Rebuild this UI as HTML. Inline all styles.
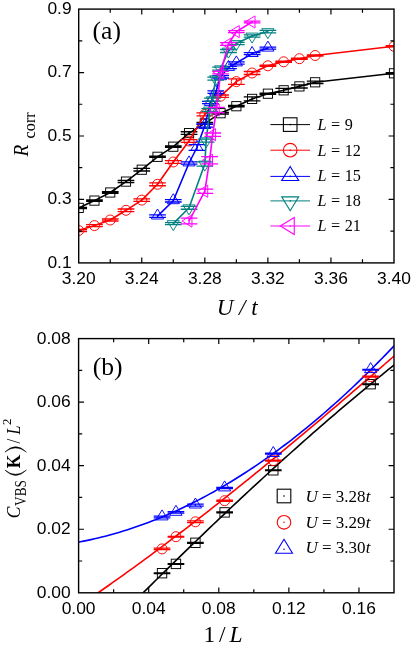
<!DOCTYPE html><html><head><meta charset="utf-8"><title>fig</title><style>html,body{margin:0;padding:0;background:#fff}svg{display:block;will-change:transform}text{fill:#000}</style></head><body>
<svg width="411" height="649" viewBox="0 0 411 649">
<rect width="411" height="649" fill="#fff"/>
<defs><clipPath id="ca"><rect x="78.7" y="9.1" width="315.3" height="253.79999999999998"/></clipPath><clipPath id="cb"><rect x="78.6" y="338.6" width="315.4" height="254.19999999999993"/></clipPath></defs>
<g clip-path="url(#ca)">
<polyline points="78.70,207.90 94.46,200.60 110.23,192.50 125.99,181.60 141.76,169.70 157.52,156.80 173.29,146.70 189.05,133.10 204.82,123.40 220.58,113.20 236.35,106.20 252.11,98.90 267.88,93.70 283.64,90.30 299.41,86.40 315.17,82.30 394.00,73.30" fill="none" stroke="#000000" stroke-width="1.6" stroke-linejoin="round"/>
<path d="M70.35 207.30h16.7M70.35 208.50h16.7M78.70 207.30v1.20" stroke="#000000" stroke-width="1.3" fill="none"/>
<rect x="74.10" y="203.30" width="9.20" height="9.20" fill="none" stroke="#000000" stroke-width="0.95"/>
<path d="M86.11 199.95h16.7M86.11 201.25h16.7M94.46 199.95v1.30" stroke="#000000" stroke-width="1.3" fill="none"/>
<rect x="89.86" y="196.00" width="9.20" height="9.20" fill="none" stroke="#000000" stroke-width="0.95"/>
<path d="M101.88 191.75h16.7M101.88 193.25h16.7M110.23 191.75v1.50" stroke="#000000" stroke-width="1.3" fill="none"/>
<rect x="105.63" y="187.90" width="9.20" height="9.20" fill="none" stroke="#000000" stroke-width="0.95"/>
<path d="M117.64 180.50h16.7M117.64 182.70h16.7M125.99 180.50v2.20" stroke="#000000" stroke-width="1.3" fill="none"/>
<rect x="121.39" y="177.00" width="9.20" height="9.20" fill="none" stroke="#000000" stroke-width="0.95"/>
<path d="M133.41 168.40h16.7M133.41 171.00h16.7M141.76 168.40v2.60" stroke="#000000" stroke-width="1.3" fill="none"/>
<rect x="137.16" y="165.10" width="9.20" height="9.20" fill="none" stroke="#000000" stroke-width="0.95"/>
<path d="M149.17 156.20h16.7M149.17 157.40h16.7M157.52 156.20v1.20" stroke="#000000" stroke-width="1.3" fill="none"/>
<rect x="152.92" y="152.20" width="9.20" height="9.20" fill="none" stroke="#000000" stroke-width="0.95"/>
<path d="M164.94 146.00h16.7M164.94 147.40h16.7M173.29 146.00v1.40" stroke="#000000" stroke-width="1.3" fill="none"/>
<rect x="168.69" y="142.10" width="9.20" height="9.20" fill="none" stroke="#000000" stroke-width="0.95"/>
<path d="M180.70 131.75h16.7M180.70 134.45h16.7M189.05 131.75v2.70" stroke="#000000" stroke-width="1.3" fill="none"/>
<rect x="184.45" y="128.50" width="9.20" height="9.20" fill="none" stroke="#000000" stroke-width="0.95"/>
<path d="M196.47 122.40h16.7M196.47 124.40h16.7M204.82 122.40v2.00" stroke="#000000" stroke-width="1.3" fill="none"/>
<rect x="200.22" y="118.80" width="9.20" height="9.20" fill="none" stroke="#000000" stroke-width="0.95"/>
<path d="M212.23 112.40h16.7M212.23 114.00h16.7M220.58 112.40v1.60" stroke="#000000" stroke-width="1.3" fill="none"/>
<rect x="215.98" y="108.60" width="9.20" height="9.20" fill="none" stroke="#000000" stroke-width="0.95"/>
<path d="M228.00 105.50h16.7M228.00 106.90h16.7M236.35 105.50v1.40" stroke="#000000" stroke-width="1.3" fill="none"/>
<rect x="231.75" y="101.60" width="9.20" height="9.20" fill="none" stroke="#000000" stroke-width="0.95"/>
<path d="M243.76 96.90h16.7M243.76 100.90h16.7M252.11 96.90v4.00" stroke="#000000" stroke-width="1.3" fill="none"/>
<rect x="247.51" y="94.30" width="9.20" height="9.20" fill="none" stroke="#000000" stroke-width="0.95"/>
<path d="M259.53 93.10h16.7M259.53 94.30h16.7M267.88 93.10v1.20" stroke="#000000" stroke-width="1.3" fill="none"/>
<rect x="263.28" y="89.10" width="9.20" height="9.20" fill="none" stroke="#000000" stroke-width="0.95"/>
<path d="M275.29 88.30h16.7M275.29 92.30h16.7M283.64 88.30v4.00" stroke="#000000" stroke-width="1.3" fill="none"/>
<rect x="279.04" y="85.70" width="9.20" height="9.20" fill="none" stroke="#000000" stroke-width="0.95"/>
<path d="M291.06 84.80h16.7M291.06 88.00h16.7M299.41 84.80v3.20" stroke="#000000" stroke-width="1.3" fill="none"/>
<rect x="294.81" y="81.80" width="9.20" height="9.20" fill="none" stroke="#000000" stroke-width="0.95"/>
<path d="M306.82 81.10h16.7M306.82 83.50h16.7M315.17 81.10v2.40" stroke="#000000" stroke-width="1.3" fill="none"/>
<rect x="310.57" y="77.70" width="9.20" height="9.20" fill="none" stroke="#000000" stroke-width="0.95"/>
<path d="M385.65 72.60h16.7M385.65 74.00h16.7M394.00 72.60v1.40" stroke="#000000" stroke-width="1.3" fill="none"/>
<rect x="389.40" y="68.70" width="9.20" height="9.20" fill="none" stroke="#000000" stroke-width="0.95"/>
<polyline points="78.70,230.50 94.46,225.60 110.23,220.00 125.99,210.30 141.76,200.10 157.52,184.30 173.29,162.00 189.05,141.00 204.82,114.40 220.58,96.20 236.35,81.60 252.11,73.00 267.88,65.80 283.64,61.80 299.41,58.70 315.17,55.50 394.00,46.30" fill="none" stroke="#ff0000" stroke-width="1.6" stroke-linejoin="round"/>
<path d="M70.35 229.50h16.7M70.35 231.50h16.7M78.70 229.50v2.00" stroke="#ff0000" stroke-width="1.3" fill="none"/>
<circle cx="78.70" cy="230.50" r="5.00" fill="none" stroke="#ff0000" stroke-width="0.95"/>
<path d="M86.11 224.60h16.7M86.11 226.60h16.7M94.46 224.60v2.00" stroke="#ff0000" stroke-width="1.3" fill="none"/>
<circle cx="94.46" cy="225.60" r="5.00" fill="none" stroke="#ff0000" stroke-width="0.95"/>
<path d="M101.88 219.00h16.7M101.88 221.00h16.7M110.23 219.00v2.00" stroke="#ff0000" stroke-width="1.3" fill="none"/>
<circle cx="110.23" cy="220.00" r="5.00" fill="none" stroke="#ff0000" stroke-width="0.95"/>
<path d="M117.64 209.00h16.7M117.64 211.60h16.7M125.99 209.00v2.60" stroke="#ff0000" stroke-width="1.3" fill="none"/>
<circle cx="125.99" cy="210.30" r="5.00" fill="none" stroke="#ff0000" stroke-width="0.95"/>
<path d="M133.41 198.90h16.7M133.41 201.30h16.7M141.76 198.90v2.40" stroke="#ff0000" stroke-width="1.3" fill="none"/>
<circle cx="141.76" cy="200.10" r="5.00" fill="none" stroke="#ff0000" stroke-width="0.95"/>
<path d="M149.17 182.85h16.7M149.17 185.75h16.7M157.52 182.85v2.90" stroke="#ff0000" stroke-width="1.3" fill="none"/>
<circle cx="157.52" cy="184.30" r="5.00" fill="none" stroke="#ff0000" stroke-width="0.95"/>
<path d="M164.94 160.55h16.7M164.94 163.45h16.7M173.29 160.55v2.90" stroke="#ff0000" stroke-width="1.3" fill="none"/>
<circle cx="173.29" cy="162.00" r="5.00" fill="none" stroke="#ff0000" stroke-width="0.95"/>
<path d="M180.70 139.70h16.7M180.70 142.30h16.7M189.05 139.70v2.60" stroke="#ff0000" stroke-width="1.3" fill="none"/>
<circle cx="189.05" cy="141.00" r="5.00" fill="none" stroke="#ff0000" stroke-width="0.95"/>
<path d="M196.47 112.90h16.7M196.47 115.90h16.7M204.82 112.90v3.00" stroke="#ff0000" stroke-width="1.3" fill="none"/>
<circle cx="204.82" cy="114.40" r="5.00" fill="none" stroke="#ff0000" stroke-width="0.95"/>
<path d="M212.23 95.00h16.7M212.23 97.40h16.7M220.58 95.00v2.40" stroke="#ff0000" stroke-width="1.3" fill="none"/>
<circle cx="220.58" cy="96.20" r="5.00" fill="none" stroke="#ff0000" stroke-width="0.95"/>
<path d="M228.00 78.80h16.7M228.00 84.40h16.7M236.35 78.80v5.60" stroke="#ff0000" stroke-width="1.3" fill="none"/>
<circle cx="236.35" cy="81.60" r="5.00" fill="none" stroke="#ff0000" stroke-width="0.95"/>
<path d="M243.76 71.50h16.7M243.76 74.50h16.7M252.11 71.50v3.00" stroke="#ff0000" stroke-width="1.3" fill="none"/>
<circle cx="252.11" cy="73.00" r="5.00" fill="none" stroke="#ff0000" stroke-width="0.95"/>
<path d="M259.53 65.20h16.7M259.53 66.40h16.7M267.88 65.20v1.20" stroke="#ff0000" stroke-width="1.3" fill="none"/>
<circle cx="267.88" cy="65.80" r="5.00" fill="none" stroke="#ff0000" stroke-width="0.95"/>
<path d="M275.29 61.20h16.7M275.29 62.40h16.7M283.64 61.20v1.20" stroke="#ff0000" stroke-width="1.3" fill="none"/>
<circle cx="283.64" cy="61.80" r="5.00" fill="none" stroke="#ff0000" stroke-width="0.95"/>
<path d="M291.06 58.10h16.7M291.06 59.30h16.7M299.41 58.10v1.20" stroke="#ff0000" stroke-width="1.3" fill="none"/>
<circle cx="299.41" cy="58.70" r="5.00" fill="none" stroke="#ff0000" stroke-width="0.95"/>
<path d="M306.82 54.90h16.7M306.82 56.10h16.7M315.17 54.90v1.20" stroke="#ff0000" stroke-width="1.3" fill="none"/>
<circle cx="315.17" cy="55.50" r="5.00" fill="none" stroke="#ff0000" stroke-width="0.95"/>
<path d="M385.65 45.70h16.7M385.65 46.90h16.7M394.00 45.70v1.20" stroke="#ff0000" stroke-width="1.3" fill="none"/>
<circle cx="394.00" cy="46.30" r="5.00" fill="none" stroke="#ff0000" stroke-width="0.95"/>
<polyline points="157.52,216.10 173.29,200.80 189.05,163.00 196.94,147.50 204.82,125.60 210.40,102.50 215.80,92.10 220.58,76.80 228.47,67.50 236.35,63.00 252.11,53.60 267.88,48.20" fill="none" stroke="#0000ff" stroke-width="1.6" stroke-linejoin="round"/>
<path d="M149.17 214.83h16.7M149.17 217.37h16.7M157.52 214.83v2.54" stroke="#0000ff" stroke-width="1.3" fill="none"/>
<polygon points="157.52,209.00 151.42,219.00 163.62,219.00" fill="none" stroke="#0000ff" stroke-width="0.95" stroke-linejoin="miter"/>
<path d="M164.94 199.60h16.7M164.94 202.00h16.7M173.29 199.60v2.40" stroke="#0000ff" stroke-width="1.3" fill="none"/>
<polygon points="173.29,193.70 167.19,203.70 179.39,203.70" fill="none" stroke="#0000ff" stroke-width="0.95" stroke-linejoin="miter"/>
<path d="M180.70 161.80h16.7M180.70 164.20h16.7M189.05 161.80v2.40" stroke="#0000ff" stroke-width="1.3" fill="none"/>
<polygon points="189.05,155.90 182.95,165.90 195.15,165.90" fill="none" stroke="#0000ff" stroke-width="0.95" stroke-linejoin="miter"/>
<path d="M188.59 144.60h16.7M188.59 150.40h16.7M196.94 144.60v5.80" stroke="#0000ff" stroke-width="1.3" fill="none"/>
<polygon points="196.94,140.40 190.84,150.40 203.04,150.40" fill="none" stroke="#0000ff" stroke-width="0.95" stroke-linejoin="miter"/>
<path d="M196.47 124.00h16.7M196.47 127.20h16.7M204.82 124.00v3.20" stroke="#0000ff" stroke-width="1.3" fill="none"/>
<polygon points="204.82,118.50 198.72,128.50 210.92,128.50" fill="none" stroke="#0000ff" stroke-width="0.95" stroke-linejoin="miter"/>
<path d="M202.05 101.30h16.7M202.05 103.70h16.7M210.40 101.30v2.40" stroke="#0000ff" stroke-width="1.3" fill="none"/>
<polygon points="210.40,95.40 204.30,105.40 216.50,105.40" fill="none" stroke="#0000ff" stroke-width="0.95" stroke-linejoin="miter"/>
<path d="M207.45 90.90h16.7M207.45 93.30h16.7M215.80 90.90v2.40" stroke="#0000ff" stroke-width="1.3" fill="none"/>
<polygon points="215.80,85.00 209.70,95.00 221.90,95.00" fill="none" stroke="#0000ff" stroke-width="0.95" stroke-linejoin="miter"/>
<path d="M212.23 75.60h16.7M212.23 78.00h16.7M220.58 75.60v2.40" stroke="#0000ff" stroke-width="1.3" fill="none"/>
<polygon points="220.58,69.70 214.48,79.70 226.68,79.70" fill="none" stroke="#0000ff" stroke-width="0.95" stroke-linejoin="miter"/>
<path d="M220.12 66.30h16.7M220.12 68.70h16.7M228.47 66.30v2.40" stroke="#0000ff" stroke-width="1.3" fill="none"/>
<polygon points="228.47,60.40 222.37,70.40 234.57,70.40" fill="none" stroke="#0000ff" stroke-width="0.95" stroke-linejoin="miter"/>
<path d="M228.00 61.80h16.7M228.00 64.20h16.7M236.35 61.80v2.40" stroke="#0000ff" stroke-width="1.3" fill="none"/>
<polygon points="236.35,55.90 230.25,65.90 242.45,65.90" fill="none" stroke="#0000ff" stroke-width="0.95" stroke-linejoin="miter"/>
<path d="M243.76 52.60h16.7M243.76 54.60h16.7M252.11 52.60v2.00" stroke="#0000ff" stroke-width="1.3" fill="none"/>
<polygon points="252.11,46.50 246.01,56.50 258.21,56.50" fill="none" stroke="#0000ff" stroke-width="0.95" stroke-linejoin="miter"/>
<path d="M259.53 47.20h16.7M259.53 49.20h16.7M267.88 47.20v2.00" stroke="#0000ff" stroke-width="1.3" fill="none"/>
<polygon points="267.88,41.10 261.78,51.10 273.98,51.10" fill="none" stroke="#0000ff" stroke-width="0.95" stroke-linejoin="miter"/>
<polyline points="173.29,223.60 189.05,207.80 204.82,164.00 206.20,140.70 209.70,110.00 212.40,99.70 215.70,78.70 220.58,68.70 228.47,51.00 236.35,43.50 252.11,36.00 267.88,31.60" fill="none" stroke="#008080" stroke-width="1.6" stroke-linejoin="round"/>
<path d="M164.94 222.60h16.7M164.94 224.60h16.7M173.29 222.60v2.00" stroke="#008080" stroke-width="1.3" fill="none"/>
<polygon points="173.29,230.70 167.19,220.70 179.39,220.70" fill="none" stroke="#008080" stroke-width="0.95" stroke-linejoin="miter"/>
<path d="M180.70 206.35h16.7M180.70 209.25h16.7M189.05 206.35v2.90" stroke="#008080" stroke-width="1.3" fill="none"/>
<polygon points="189.05,214.90 182.95,204.90 195.15,204.90" fill="none" stroke="#008080" stroke-width="0.95" stroke-linejoin="miter"/>
<path d="M196.47 161.80h16.7M196.47 166.20h16.7M204.82 161.80v4.40" stroke="#008080" stroke-width="1.3" fill="none"/>
<polygon points="204.82,171.10 198.72,161.10 210.92,161.10" fill="none" stroke="#008080" stroke-width="0.95" stroke-linejoin="miter"/>
<path d="M197.85 139.20h16.7M197.85 142.20h16.7M206.20 139.20v3.00" stroke="#008080" stroke-width="1.3" fill="none"/>
<polygon points="206.20,147.80 200.10,137.80 212.30,137.80" fill="none" stroke="#008080" stroke-width="0.95" stroke-linejoin="miter"/>
<path d="M201.35 108.55h16.7M201.35 111.45h16.7M209.70 108.55v2.90" stroke="#008080" stroke-width="1.3" fill="none"/>
<polygon points="209.70,117.10 203.60,107.10 215.80,107.10" fill="none" stroke="#008080" stroke-width="0.95" stroke-linejoin="miter"/>
<path d="M204.05 98.20h16.7M204.05 101.20h16.7M212.40 98.20v3.00" stroke="#008080" stroke-width="1.3" fill="none"/>
<polygon points="212.40,106.80 206.30,96.80 218.50,96.80" fill="none" stroke="#008080" stroke-width="0.95" stroke-linejoin="miter"/>
<path d="M207.35 77.20h16.7M207.35 80.20h16.7M215.70 77.20v3.00" stroke="#008080" stroke-width="1.3" fill="none"/>
<polygon points="215.70,85.80 209.60,75.80 221.80,75.80" fill="none" stroke="#008080" stroke-width="0.95" stroke-linejoin="miter"/>
<path d="M212.23 67.20h16.7M212.23 70.20h16.7M220.58 67.20v3.00" stroke="#008080" stroke-width="1.3" fill="none"/>
<polygon points="220.58,75.80 214.48,65.80 226.68,65.80" fill="none" stroke="#008080" stroke-width="0.95" stroke-linejoin="miter"/>
<path d="M220.12 49.50h16.7M220.12 52.50h16.7M228.47 49.50v3.00" stroke="#008080" stroke-width="1.3" fill="none"/>
<polygon points="228.47,58.10 222.37,48.10 234.57,48.10" fill="none" stroke="#008080" stroke-width="0.95" stroke-linejoin="miter"/>
<path d="M228.00 42.30h16.7M228.00 44.70h16.7M236.35 42.30v2.40" stroke="#008080" stroke-width="1.3" fill="none"/>
<polygon points="236.35,50.60 230.25,40.60 242.45,40.60" fill="none" stroke="#008080" stroke-width="0.95" stroke-linejoin="miter"/>
<path d="M243.76 34.80h16.7M243.76 37.20h16.7M252.11 34.80v2.40" stroke="#008080" stroke-width="1.3" fill="none"/>
<polygon points="252.11,43.10 246.01,33.10 258.21,33.10" fill="none" stroke="#008080" stroke-width="0.95" stroke-linejoin="miter"/>
<path d="M259.53 30.40h16.7M259.53 32.80h16.7M267.88 30.40v2.40" stroke="#008080" stroke-width="1.3" fill="none"/>
<polygon points="267.88,38.70 261.78,28.70 273.98,28.70" fill="none" stroke="#008080" stroke-width="0.95" stroke-linejoin="miter"/>
<polyline points="189.05,221.00 204.82,191.20 209.60,160.30 212.70,134.70 216.40,110.00 220.58,72.60 228.47,44.00 236.35,31.60 252.11,22.00" fill="none" stroke="#ff00ff" stroke-width="1.6" stroke-linejoin="round"/>
<path d="M180.70 218.10h16.7M180.70 223.90h16.7M189.05 218.10v5.80" stroke="#ff00ff" stroke-width="1.3" fill="none"/>
<polygon points="181.95,221.00 191.96,214.90 191.96,227.10" fill="none" stroke="#ff00ff" stroke-width="0.95" stroke-linejoin="miter"/>
<path d="M196.47 189.10h16.7M196.47 193.30h16.7M204.82 189.10v4.20" stroke="#ff00ff" stroke-width="1.3" fill="none"/>
<polygon points="197.72,191.20 207.72,185.10 207.72,197.30" fill="none" stroke="#ff00ff" stroke-width="0.95" stroke-linejoin="miter"/>
<path d="M201.25 156.65h16.7M201.25 163.95h16.7M209.60 156.65v7.30" stroke="#ff00ff" stroke-width="1.3" fill="none"/>
<polygon points="202.50,160.30 212.50,154.20 212.50,166.40" fill="none" stroke="#ff00ff" stroke-width="0.95" stroke-linejoin="miter"/>
<path d="M204.35 133.00h16.7M204.35 136.40h16.7M212.70 133.00v3.40" stroke="#ff00ff" stroke-width="1.3" fill="none"/>
<polygon points="205.60,134.70 215.60,128.60 215.60,140.80" fill="none" stroke="#ff00ff" stroke-width="0.95" stroke-linejoin="miter"/>
<path d="M208.05 107.40h16.7M208.05 112.60h16.7M216.40 107.40v5.20" stroke="#ff00ff" stroke-width="1.3" fill="none"/>
<polygon points="209.30,110.00 219.30,103.90 219.30,116.10" fill="none" stroke="#ff00ff" stroke-width="0.95" stroke-linejoin="miter"/>
<path d="M212.23 71.30h16.7M212.23 73.90h16.7M220.58 71.30v2.60" stroke="#ff00ff" stroke-width="1.3" fill="none"/>
<polygon points="213.48,72.60 223.49,66.50 223.49,78.70" fill="none" stroke="#ff00ff" stroke-width="0.95" stroke-linejoin="miter"/>
<path d="M220.12 42.70h16.7M220.12 45.30h16.7M228.47 42.70v2.60" stroke="#ff00ff" stroke-width="1.3" fill="none"/>
<polygon points="221.36,44.00 231.37,37.90 231.37,50.10" fill="none" stroke="#ff00ff" stroke-width="0.95" stroke-linejoin="miter"/>
<path d="M228.00 30.60h16.7M228.00 32.60h16.7M236.35 30.60v2.00" stroke="#ff00ff" stroke-width="1.3" fill="none"/>
<polygon points="229.25,31.60 239.25,25.50 239.25,37.70" fill="none" stroke="#ff00ff" stroke-width="0.95" stroke-linejoin="miter"/>
<path d="M243.76 21.20h16.7M243.76 22.80h16.7M252.11 21.20v1.60" stroke="#ff00ff" stroke-width="1.3" fill="none"/>
<polygon points="245.01,22.00 255.02,15.90 255.02,28.10" fill="none" stroke="#ff00ff" stroke-width="0.95" stroke-linejoin="miter"/>
</g>
<rect x="78.7" y="9.1" width="315.30" height="253.80" fill="none" stroke="#000" stroke-width="1.4"/>
<path d="M141.76 262.9v-5.4M141.76 9.1v5.4M204.82 262.9v-5.4M204.82 9.1v5.4M267.88 262.9v-5.4M267.88 9.1v5.4M330.94 262.9v-5.4M330.94 9.1v5.4M110.23 262.9v-3.6M110.23 9.1v3.6M173.29 262.9v-3.6M173.29 9.1v3.6M236.35 262.9v-3.6M236.35 9.1v3.6M299.41 262.9v-3.6M299.41 9.1v3.6M362.47 262.9v-3.6M362.47 9.1v3.6M78.7 199.45h5.4M394.0 199.45h-5.4M78.7 136.00h5.4M394.0 136.00h-5.4M78.7 72.55h5.4M394.0 72.55h-5.4M78.7 231.17h3.6M394.0 231.17h-3.6M78.7 167.72h3.6M394.0 167.72h-3.6M78.7 104.27h3.6M394.0 104.27h-3.6M78.7 40.82h3.6M394.0 40.82h-3.6" stroke="#000" stroke-width="1.2" fill="none"/>
<text x="78.70" y="283.8" text-anchor="middle" style="font-family:'Liberation Sans',sans-serif;font-size:17.4px">3.20</text>
<text x="141.76" y="283.8" text-anchor="middle" style="font-family:'Liberation Sans',sans-serif;font-size:17.4px">3.24</text>
<text x="204.82" y="283.8" text-anchor="middle" style="font-family:'Liberation Sans',sans-serif;font-size:17.4px">3.28</text>
<text x="267.88" y="283.8" text-anchor="middle" style="font-family:'Liberation Sans',sans-serif;font-size:17.4px">3.32</text>
<text x="330.94" y="283.8" text-anchor="middle" style="font-family:'Liberation Sans',sans-serif;font-size:17.4px">3.36</text>
<text x="394.00" y="283.8" text-anchor="middle" style="font-family:'Liberation Sans',sans-serif;font-size:17.4px">3.40</text>
<text x="71.6" y="267.60" text-anchor="end" style="font-family:'Liberation Sans',sans-serif;font-size:17.4px">0.1</text>
<text x="71.6" y="204.15" text-anchor="end" style="font-family:'Liberation Sans',sans-serif;font-size:17.4px">0.3</text>
<text x="71.6" y="140.70" text-anchor="end" style="font-family:'Liberation Sans',sans-serif;font-size:17.4px">0.5</text>
<text x="71.6" y="77.25" text-anchor="end" style="font-family:'Liberation Sans',sans-serif;font-size:17.4px">0.7</text>
<text x="71.6" y="13.80" text-anchor="end" style="font-family:'Liberation Sans',sans-serif;font-size:17.4px">0.9</text>
<text x="92.6" y="38.6" style="font-family:'Liberation Serif',serif;font-size:25.6px">(a)</text>
<text x="237.2" y="315.0" text-anchor="middle" style="font-family:'Liberation Serif',serif;font-size:23px;font-style:italic">U / t</text>
<text transform="translate(28.0,156.4) rotate(-90) scale(0.92,1)" style="font-family:'Liberation Serif',serif;font-size:21px;font-style:italic">R</text>
<text transform="translate(35.0,138.4) rotate(-90) scale(0.93,1)" style="font-family:'Liberation Serif',serif;font-size:17.5px">corr</text>
<path d="M270.4 124.6H310" stroke="#000000" stroke-width="1.0"/>
<rect x="283.40" y="117.80" width="13.60" height="13.60" fill="none" stroke="#000000" stroke-width="1.1"/><circle cx="290.20" cy="124.60" r="0.8" fill="#000000"/>
<text x="317.6" y="130.2" style="font-family:'Liberation Serif',serif;font-size:16.2px;word-spacing:0.4px"><tspan font-style="italic">L</tspan> = 9</text>
<path d="M270.4 150.2H310" stroke="#ff0000" stroke-width="1.0"/>
<circle cx="290.20" cy="150.20" r="6.80" fill="none" stroke="#ff0000" stroke-width="1.1"/><circle cx="290.20" cy="150.20" r="0.8" fill="#ff0000"/>
<text x="317.6" y="155.5" style="font-family:'Liberation Serif',serif;font-size:16.2px;word-spacing:0.4px"><tspan font-style="italic">L</tspan> = 12</text>
<path d="M270.4 176.4H310" stroke="#0000ff" stroke-width="1.0"/>
<polygon points="290.20,166.50 281.70,180.44 298.70,180.44" fill="none" stroke="#0000ff" stroke-width="1.1" stroke-linejoin="miter"/><circle cx="290.20" cy="176.40" r="0.8" fill="#0000ff"/>
<text x="317.6" y="180.6" style="font-family:'Liberation Serif',serif;font-size:16.2px;word-spacing:0.4px"><tspan font-style="italic">L</tspan> = 15</text>
<path d="M270.4 200.9H310" stroke="#008080" stroke-width="1.0"/>
<polygon points="290.20,210.80 281.70,196.86 298.70,196.86" fill="none" stroke="#008080" stroke-width="1.1" stroke-linejoin="miter"/><circle cx="290.20" cy="200.90" r="0.8" fill="#008080"/>
<text x="317.6" y="206.1" style="font-family:'Liberation Serif',serif;font-size:16.2px;word-spacing:0.4px"><tspan font-style="italic">L</tspan> = 18</text>
<path d="M270.4 226.0H310" stroke="#ff00ff" stroke-width="1.0"/>
<polygon points="280.30,226.00 294.24,217.50 294.24,234.50" fill="none" stroke="#ff00ff" stroke-width="1.1" stroke-linejoin="miter"/><circle cx="290.20" cy="226.00" r="0.8" fill="#ff00ff"/>
<text x="317.6" y="230.9" style="font-family:'Liberation Serif',serif;font-size:16.2px;word-spacing:0.4px"><tspan font-style="italic">L</tspan> = 21</text>
<g clip-path="url(#cb)">
<polyline points="76.60,660.00 80.19,656.33 83.78,652.66 87.37,649.00 90.96,645.34 94.54,641.69 98.13,638.04 101.72,634.40 105.31,630.77 108.90,627.14 112.49,623.51 116.08,619.90 119.67,616.28 123.25,612.68 126.84,609.08 130.43,605.49 134.02,601.90 137.61,598.32 141.20,594.74 144.79,591.18 148.38,587.62 151.96,584.06 155.55,580.51 159.14,576.97 162.73,573.44 166.32,569.91 169.91,566.40 173.50,562.88 177.09,559.38 180.67,555.88 184.26,552.40 187.85,548.91 191.44,545.44 195.03,541.98 198.62,538.52 202.21,535.07 205.80,531.63 209.38,528.20 212.97,524.77 216.56,521.36 220.15,517.95 223.74,514.55 227.33,511.16 230.92,507.78 234.51,504.41 238.09,501.05 241.68,497.69 245.27,494.35 248.86,491.01 252.45,487.69 256.04,484.37 259.63,481.06 263.22,477.77 266.80,474.48 270.39,471.20 273.98,467.94 277.57,464.68 281.16,461.43 284.75,458.20 288.34,454.97 291.93,451.75 295.51,448.55 299.10,445.35 302.69,442.17 306.28,439.00 309.87,435.84 313.46,432.68 317.05,429.54 320.64,426.42 324.22,423.30 327.81,420.19 331.40,417.10 334.99,414.02 338.58,410.94 342.17,407.88 345.76,404.84 349.35,401.80 352.93,398.78 356.52,395.77 360.11,392.77 363.70,389.78 367.29,386.81 370.88,383.84 374.47,380.89 378.06,377.96 381.64,375.03 385.23,372.12 388.82,369.23 392.41,366.34 396.00,363.47" fill="none" stroke="#000000" stroke-width="1.6" stroke-linejoin="round"/>
<polyline points="76.60,607.48 80.19,605.06 83.78,602.62 87.37,600.18 90.96,597.72 94.54,595.25 98.13,592.76 101.72,590.27 105.31,587.76 108.90,585.24 112.49,582.71 116.08,580.17 119.67,577.61 123.25,575.05 126.84,572.47 130.43,569.88 134.02,567.28 137.61,564.67 141.20,562.05 144.79,559.41 148.38,556.77 151.96,554.12 155.55,551.45 159.14,548.78 162.73,546.09 166.32,543.39 169.91,540.69 173.50,537.97 177.09,535.25 180.67,532.51 184.26,529.77 187.85,527.01 191.44,524.25 195.03,521.47 198.62,518.69 202.21,515.90 205.80,513.09 209.38,510.28 212.97,507.46 216.56,504.64 220.15,501.80 223.74,498.95 227.33,496.10 230.92,493.24 234.51,490.37 238.09,487.49 241.68,484.60 245.27,481.71 248.86,478.81 252.45,475.90 256.04,472.98 259.63,470.05 263.22,467.12 266.80,464.18 270.39,461.23 273.98,458.28 277.57,455.32 281.16,452.35 284.75,449.38 288.34,446.39 291.93,443.41 295.51,440.41 299.10,437.41 302.69,434.41 306.28,431.39 309.87,428.37 313.46,425.35 317.05,422.32 320.64,419.28 324.22,416.24 327.81,413.19 331.40,410.14 334.99,407.08 338.58,404.02 342.17,400.95 345.76,397.88 349.35,394.80 352.93,391.72 356.52,388.63 360.11,385.54 363.70,382.44 367.29,379.34 370.88,376.23 374.47,373.13 378.06,370.01 381.64,366.90 385.23,363.77 388.82,360.65 392.41,357.52 396.00,354.39" fill="none" stroke="#ff0000" stroke-width="1.6" stroke-linejoin="round"/>
<polyline points="76.60,542.46 80.19,541.80 83.78,541.10 87.37,540.37 90.96,539.60 94.54,538.80 98.13,537.96 101.72,537.08 105.31,536.17 108.90,535.22 112.49,534.24 116.08,533.22 119.67,532.17 123.25,531.08 126.84,529.95 130.43,528.79 134.02,527.59 137.61,526.35 141.20,525.08 144.79,523.78 148.38,522.44 151.96,521.06 155.55,519.65 159.14,518.20 162.73,516.72 166.32,515.19 169.91,513.64 173.50,512.05 177.09,510.42 180.67,508.76 184.26,507.06 187.85,505.32 191.44,503.55 195.03,501.75 198.62,499.91 202.21,498.03 205.80,496.11 209.38,494.17 212.97,492.18 216.56,490.16 220.15,488.10 223.74,486.01 227.33,483.89 230.92,481.72 234.51,479.52 238.09,477.29 241.68,475.02 245.27,472.72 248.86,470.37 252.45,468.00 256.04,465.59 259.63,463.14 263.22,460.65 266.80,458.14 270.39,455.58 273.98,452.99 277.57,450.36 281.16,447.70 284.75,445.01 288.34,442.27 291.93,439.51 295.51,436.70 299.10,433.86 302.69,430.99 306.28,428.08 309.87,425.13 313.46,422.15 317.05,419.14 320.64,416.08 324.22,413.00 327.81,409.87 331.40,406.71 334.99,403.52 338.58,400.29 342.17,397.03 345.76,393.72 349.35,390.39 352.93,387.02 356.52,383.61 360.11,380.17 363.70,376.69 367.29,373.18 370.88,369.63 374.47,366.05 378.06,362.43 381.64,358.77 385.23,355.08 388.82,351.36 392.41,347.60 396.00,343.80" fill="none" stroke="#0000ff" stroke-width="1.6" stroke-linejoin="round"/>
</g>
<path d="M153.69 572.85h16.7M153.69 573.55h16.7M162.04 572.85v0.70" stroke="#000000" stroke-width="1.3" fill="none"/>
<rect x="157.34" y="568.50" width="9.40" height="9.40" fill="none" stroke="#000000" stroke-width="0.95"/>
<path d="M167.60 563.55h16.7M167.60 564.25h16.7M175.95 563.55v0.70" stroke="#000000" stroke-width="1.3" fill="none"/>
<rect x="171.25" y="559.20" width="9.40" height="9.40" fill="none" stroke="#000000" stroke-width="0.95"/>
<path d="M187.06 542.30h16.7M187.06 543.30h16.7M195.41 542.30v1.00" stroke="#000000" stroke-width="1.3" fill="none"/>
<rect x="190.71" y="538.10" width="9.40" height="9.40" fill="none" stroke="#000000" stroke-width="0.95"/>
<path d="M216.27 511.90h16.7M216.27 512.90h16.7M224.62 511.90v1.00" stroke="#000000" stroke-width="1.3" fill="none"/>
<rect x="219.92" y="507.70" width="9.40" height="9.40" fill="none" stroke="#000000" stroke-width="0.95"/>
<path d="M264.94 469.90h16.7M264.94 470.70h16.7M273.29 469.90v0.80" stroke="#000000" stroke-width="1.3" fill="none"/>
<rect x="268.59" y="465.60" width="9.40" height="9.40" fill="none" stroke="#000000" stroke-width="0.95"/>
<path d="M362.29 383.80h16.7M362.29 384.60h16.7M370.64 383.80v0.80" stroke="#000000" stroke-width="1.3" fill="none"/>
<rect x="365.94" y="379.50" width="9.40" height="9.40" fill="none" stroke="#000000" stroke-width="0.95"/>
<path d="M153.69 548.10h16.7M153.69 549.70h16.7M162.04 548.10v1.60" stroke="#ff0000" stroke-width="1.3" fill="none"/>
<circle cx="162.04" cy="548.90" r="5.00" fill="none" stroke="#ff0000" stroke-width="0.95"/>
<path d="M167.60 536.35h16.7M167.60 537.05h16.7M175.95 536.35v0.70" stroke="#ff0000" stroke-width="1.3" fill="none"/>
<circle cx="175.95" cy="536.70" r="5.00" fill="none" stroke="#ff0000" stroke-width="0.95"/>
<path d="M187.06 520.90h16.7M187.06 522.70h16.7M195.41 520.90v1.80" stroke="#ff0000" stroke-width="1.3" fill="none"/>
<circle cx="195.41" cy="521.80" r="5.00" fill="none" stroke="#ff0000" stroke-width="0.95"/>
<path d="M216.27 500.10h16.7M216.27 501.30h16.7M224.62 500.10v1.20" stroke="#ff0000" stroke-width="1.3" fill="none"/>
<circle cx="224.62" cy="500.70" r="5.00" fill="none" stroke="#ff0000" stroke-width="0.95"/>
<path d="M264.94 460.10h16.7M264.94 461.10h16.7M273.29 460.10v1.00" stroke="#ff0000" stroke-width="1.3" fill="none"/>
<circle cx="273.29" cy="460.60" r="5.00" fill="none" stroke="#ff0000" stroke-width="0.95"/>
<path d="M362.29 376.20h16.7M362.29 377.00h16.7M370.64 376.20v0.80" stroke="#ff0000" stroke-width="1.3" fill="none"/>
<circle cx="370.64" cy="376.60" r="5.00" fill="none" stroke="#ff0000" stroke-width="0.95"/>
<path d="M153.69 516.10h16.7M153.69 517.90h16.7M162.04 516.10v1.80" stroke="#0000ff" stroke-width="1.3" fill="none"/>
<polygon points="162.04,509.90 155.94,519.90 168.14,519.90" fill="none" stroke="#0000ff" stroke-width="0.95" stroke-linejoin="miter"/>
<path d="M167.60 511.70h16.7M167.60 513.10h16.7M175.95 511.70v1.40" stroke="#0000ff" stroke-width="1.3" fill="none"/>
<polygon points="175.95,505.30 169.85,515.30 182.05,515.30" fill="none" stroke="#0000ff" stroke-width="0.95" stroke-linejoin="miter"/>
<path d="M187.06 504.10h16.7M187.06 506.10h16.7M195.41 504.10v2.00" stroke="#0000ff" stroke-width="1.3" fill="none"/>
<polygon points="195.41,498.00 189.31,508.00 201.51,508.00" fill="none" stroke="#0000ff" stroke-width="0.95" stroke-linejoin="miter"/>
<path d="M216.27 487.40h16.7M216.27 488.60h16.7M224.62 487.40v1.20" stroke="#0000ff" stroke-width="1.3" fill="none"/>
<polygon points="224.62,480.90 218.52,490.90 230.72,490.90" fill="none" stroke="#0000ff" stroke-width="0.95" stroke-linejoin="miter"/>
<path d="M264.94 453.10h16.7M264.94 454.10h16.7M273.29 453.10v1.00" stroke="#0000ff" stroke-width="1.3" fill="none"/>
<polygon points="273.29,446.50 267.19,456.50 279.39,456.50" fill="none" stroke="#0000ff" stroke-width="0.95" stroke-linejoin="miter"/>
<path d="M362.29 369.30h16.7M362.29 370.10h16.7M370.64 369.30v0.80" stroke="#0000ff" stroke-width="1.3" fill="none"/>
<polygon points="370.64,362.60 364.54,372.60 376.74,372.60" fill="none" stroke="#0000ff" stroke-width="0.95" stroke-linejoin="miter"/>
<rect x="78.6" y="338.6" width="315.40" height="254.20" fill="none" stroke="#000" stroke-width="1.4"/>
<path d="M148.69 592.8v-5.4M148.69 338.6v5.4M218.78 592.8v-5.4M218.78 338.6v5.4M288.87 592.8v-5.4M288.87 338.6v5.4M358.96 592.8v-5.4M358.96 338.6v5.4M113.64 592.8v-3.6M113.64 338.6v3.6M183.73 592.8v-3.6M183.73 338.6v3.6M253.82 592.8v-3.6M253.82 338.6v3.6M323.91 592.8v-3.6M323.91 338.6v3.6M78.6 529.25h5.4M394.0 529.25h-5.4M78.6 465.70h5.4M394.0 465.70h-5.4M78.6 402.15h5.4M394.0 402.15h-5.4M78.6 561.02h3.6M394.0 561.02h-3.6M78.6 497.47h3.6M394.0 497.47h-3.6M78.6 433.92h3.6M394.0 433.92h-3.6M78.6 370.38h3.6M394.0 370.38h-3.6" stroke="#000" stroke-width="1.2" fill="none"/>
<text x="78.60" y="613.6" text-anchor="middle" style="font-family:'Liberation Sans',sans-serif;font-size:17.4px">0.00</text>
<text x="148.69" y="613.6" text-anchor="middle" style="font-family:'Liberation Sans',sans-serif;font-size:17.4px">0.04</text>
<text x="218.78" y="613.6" text-anchor="middle" style="font-family:'Liberation Sans',sans-serif;font-size:17.4px">0.08</text>
<text x="288.87" y="613.6" text-anchor="middle" style="font-family:'Liberation Sans',sans-serif;font-size:17.4px">0.12</text>
<text x="358.96" y="613.6" text-anchor="middle" style="font-family:'Liberation Sans',sans-serif;font-size:17.4px">0.16</text>
<text x="70.7" y="598.00" text-anchor="end" style="font-family:'Liberation Sans',sans-serif;font-size:17.4px">0.00</text>
<text x="70.7" y="534.45" text-anchor="end" style="font-family:'Liberation Sans',sans-serif;font-size:17.4px">0.02</text>
<text x="70.7" y="470.90" text-anchor="end" style="font-family:'Liberation Sans',sans-serif;font-size:17.4px">0.04</text>
<text x="70.7" y="407.35" text-anchor="end" style="font-family:'Liberation Sans',sans-serif;font-size:17.4px">0.06</text>
<text x="70.7" y="343.80" text-anchor="end" style="font-family:'Liberation Sans',sans-serif;font-size:17.4px">0.08</text>
<text x="92.8" y="374.5" style="font-family:'Liberation Serif',serif;font-size:25.6px">(b)</text>
<text x="203.4" y="641.8" style="font-family:'Liberation Serif',serif;font-size:23.5px;word-spacing:-2px">1 / <tspan font-style="italic">L</tspan></text>
<text transform="translate(20.2,518.2) rotate(-90) scale(0.92,1)" style="font-family:'Liberation Serif',serif;font-size:19px;font-style:italic">C</text>
<text transform="translate(25.8,505.9) rotate(-90) scale(0.83,1)" style="font-family:'Liberation Serif',serif;font-size:16px;">VBS</text>
<path d="M4.9 470.1Q15.6 480.9 26.4 470.1Q15.6 478.5 4.9 470.1Z" fill="#000" stroke="#000" stroke-width="0.5" stroke-linejoin="round"/>
<text transform="translate(20.0,468.3) rotate(-90) scale(0.97,1)" style="font-family:'Liberation Serif',serif;font-size:18px;font-weight:bold">K</text>
<path d="M4.9 452.1Q15.6 441.3 26.4 452.1Q15.6 443.7 4.9 452.1Z" fill="#000" stroke="#000" stroke-width="0.5" stroke-linejoin="round"/>
<text transform="translate(20.0,443.4) rotate(-90) scale(0.95,1)" style="font-family:'Liberation Serif',serif;font-size:18px;">/</text>
<text transform="translate(20.0,434.4) rotate(-90) scale(0.9,1)" style="font-family:'Liberation Serif',serif;font-size:18px;font-style:italic">L</text>
<text transform="translate(11.3,425.0) rotate(-90) scale(0.95,1)" style="font-family:'Liberation Serif',serif;font-size:13.5px;">2</text>
<rect x="277.20" y="489.20" width="13.60" height="13.60" fill="none" stroke="#000000" stroke-width="1.1"/><circle cx="284.00" cy="496.00" r="0.8" fill="#000000"/>
<text x="305.5" y="501.9" style="font-family:'Liberation Serif',serif;font-size:17px"><tspan font-style="italic">U</tspan> = 3.28<tspan font-style="italic">t</tspan></text>
<circle cx="284.00" cy="522.30" r="6.80" fill="none" stroke="#ff0000" stroke-width="1.1"/><circle cx="284.00" cy="522.30" r="0.8" fill="#ff0000"/>
<text x="305.5" y="527.6" style="font-family:'Liberation Serif',serif;font-size:17px"><tspan font-style="italic">U</tspan> = 3.29<tspan font-style="italic">t</tspan></text>
<polygon points="284.00,539.30 275.50,553.24 292.50,553.24" fill="none" stroke="#0000ff" stroke-width="1.1" stroke-linejoin="miter"/><circle cx="284.00" cy="549.20" r="0.8" fill="#0000ff"/>
<text x="305.5" y="553.0" style="font-family:'Liberation Serif',serif;font-size:17px"><tspan font-style="italic">U</tspan> = 3.30<tspan font-style="italic">t</tspan></text>
</svg></body></html>
